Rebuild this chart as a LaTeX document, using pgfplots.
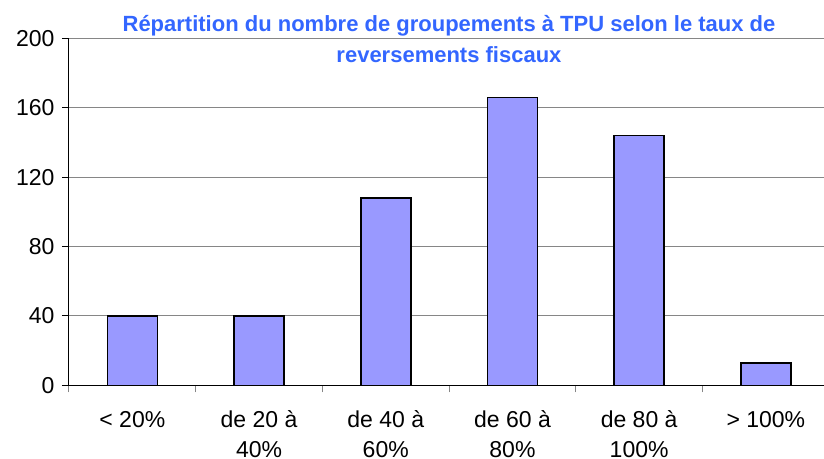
\documentclass[border=0pt]{standalone}
\usepackage{pgfplots}
\pgfplotsset{compat=1.18}
\usepackage{fontspec}
\setmainfont{Liberation Sans}
\definecolor{barfill}{RGB}{153,153,255}
\definecolor{titleblue}{RGB}{51,102,255}
\definecolor{gridgray}{RGB}{134,134,134}
\begin{document}
\begin{tikzpicture}
\begin{axis}[
  at={(0,0)}, anchor=south west,
  scale only axis, width=755bp, height=346.8bp,
  xmin=-0.5, xmax=5.459, ymin=0, ymax=200,
  axis lines=left, axis line style={-, black, line width=1bp},
  ytick={0,40,...,200},
  ymajorgrids, grid style={gridgray, line width=1bp},
  y tick style={black, line width=1bp},
  major tick length=7bp, tick align=outside,
  xtick={0,...,5},
  xticklabels={{\strut< 20\%},{\strut de 20 à\\40\%},{\strut de 40 à\\60\%},{\strut de 60 à\\80\%},{\strut de 80 à\\100\%},{\strut> 100\%}},
  major x tick style={draw=none},
  minor xtick={-0.5,0.5,1.5,2.5,3.5,4.5},
  minor x tick style={gridgray, line width=1bp},
  minor tick length=7bp,
  xticklabel style={align=center, font=\fontsize{23bp}{30bp}\selectfont, anchor=north, yshift=-11bp},
  yticklabel style={font=\fontsize{23bp}{28bp}\selectfont, anchor=east, xshift=-4bp},
  /pgf/number format/assume math mode=true,
  ybar, bar width=50bp,
  clip=false,
]
\addplot[fill=barfill, draw=black, line width=1.5bp] coordinates {(0,40) (1,40) (2,108) (3,166) (4,144) (5,13)};
\end{axis}
\node[font=\bfseries\fontsize{22bp}{31bp}\selectfont, text=titleblue, anchor=base] at (380bp,353.5bp) {Répartition du nombre de groupements à TPU selon le taux de};
\node[font=\bfseries\fontsize{22bp}{31bp}\selectfont, text=titleblue, anchor=base] at (380bp,322.5bp) {reversements fiscaux};
\pgfresetboundingbox
\path[use as bounding box] (-69bp,-73.7bp) rectangle (755bp,385.3bp);
\end{tikzpicture}
\end{document}
